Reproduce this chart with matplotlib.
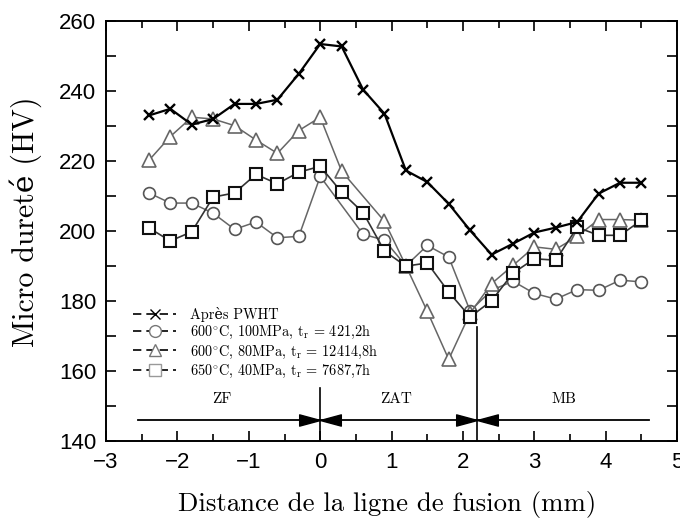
import numpy as np
import matplotlib
matplotlib.use("Agg")
import matplotlib.pyplot as plt
from matplotlib.lines import Line2D
from matplotlib.ticker import MultipleLocator

plt.rcParams['mathtext.fontset'] = 'cm'
serif = ['cmr10', 'DejaVu Serif']

# --- data ---
x_pwht = [-2.4, -2.1, -1.8, -1.5, -1.2, -0.9, -0.6, -0.3, 0.0, 0.3, 0.6, 0.9,
          1.2, 1.5, 1.8, 2.1, 2.4, 2.7, 3.0, 3.3, 3.6, 3.9, 4.2, 4.5]
hv_pwht = [232.9, 234.8, 230.3, 231.9, 236.2, 236.2, 237.4, 244.8, 253.3, 252.6, 240.3, 233.4,
           217.2, 213.9, 207.7, 200.1, 193.2, 196.3, 199.5, 200.9, 202.5, 210.6, 213.7, 213.7]

x_c100 = [-2.4, -2.1, -1.8, -1.5, -1.2, -0.9, -0.6, -0.3, 0.0, 0.6, 0.9,
          1.2, 1.5, 1.8, 2.1, 2.4, 2.7, 3.0, 3.3, 3.6, 3.9, 4.2, 4.5]
hv_c100 = [210.8, 207.9, 207.9, 205.0, 200.4, 202.5, 198.0, 198.4, 215.5, 199.0, 197.3,
           190.0, 195.8, 192.5, 177.1, 183.0, 185.6, 182.1, 180.5, 183.2, 183.0, 185.9, 185.4]

x_c80 = [-2.4, -2.1, -1.8, -1.5, -1.2, -0.9, -0.6, -0.3, 0.0, 0.3, 0.9,
         1.2, 1.5, 1.8, 2.1, 2.4, 2.7, 3.0, 3.3, 3.6, 3.9, 4.2, 4.5]
hv_c80 = [220.1, 226.9, 232.4, 231.9, 230.0, 225.9, 222.1, 228.6, 232.4, 217.0, 202.7,
          190.0, 177.0, 163.3, 176.5, 184.9, 190.1, 195.4, 194.7, 198.4, 203.2, 203.2, 203.0]

x_c40 = [-2.4, -2.1, -1.8, -1.5, -1.2, -0.9, -0.6, -0.3, 0.0, 0.3, 0.6, 0.9,
         1.2, 1.5, 1.8, 2.1, 2.4, 2.7, 3.0, 3.3, 3.6, 3.9, 4.2, 4.5]
hv_c40 = [200.8, 197.1, 199.7, 209.6, 210.8, 216.1, 213.4, 216.7, 218.4, 211.0, 205.2, 194.2,
          189.9, 190.8, 182.5, 175.4, 180.0, 187.9, 192.0, 191.6, 201.0, 198.7, 198.7, 203.0]

labels = ["Après PWHT",
          r"$\mathrm{600^{\circ}C}$, 100MPa, $\mathrm{t_r}$ = 421,2h",
          r"$\mathrm{600^{\circ}C}$, 80MPa, $\mathrm{t_r}$ = 12414,8h",
          r"$\mathrm{650^{\circ}C}$, 40MPa, $\mathrm{t_r}$ = 7687,7h"]

zone_bounds = [0.0, 2.2]
zone_bound_tops = [155, 172.6]
zone_line_x = [-2.55, 4.6]
zone_line_y = 146
zone_names = ["ZF", "ZAT", "MB"]
zone_name_x = [-1.38, 1.06, 3.42]
zone_name_y = 152

fig = plt.figure(figsize=(6.8, 5.21), dpi=100)
ax = fig.add_axes([0.156, 0.1536, 0.8398, 0.807])

ax.plot(x_pwht, hv_pwht, "-", color="black", lw=1.6, marker="x", ms=7, mew=1.7, zorder=5)
ax.plot(x_c100, hv_c100, "-", color="#666666", lw=1.1, marker="o", ms=8.5, mew=1.2,
        mfc="white", mec="#555555", zorder=3)
ax.plot(x_c80, hv_c80, "-", color="#666666", lw=1.1, marker="^", ms=9.5, mew=1.2,
        mfc="white", mec="#666666", zorder=3)
ax.plot(x_c40, hv_c40, "-", color="#333333", lw=1.2, marker="s", ms=8.5, mew=1.5,
        mfc="white", mec="#111111", zorder=4)

# zones
ax.plot(zone_line_x, [zone_line_y, zone_line_y], color="black", lw=1.3, zorder=2)
for xb, top in zip(zone_bounds, zone_bound_tops):
    ax.plot([xb, xb], [140, top], color="black", lw=1.2, zorder=2)
right_head = [(0, 0), (-1, -0.27), (-1, 0.27), (0, 0)]
left_head = [(0, 0), (1, -0.27), (1, 0.27), (0, 0)]
ax.plot(zone_bounds, [zone_line_y] * 2, ls="none", marker=right_head, ms=30,
        color="black", zorder=6)
ax.plot(zone_bounds, [zone_line_y] * 2, ls="none", marker=left_head, ms=30,
        color="black", zorder=6)
for name, xn in zip(zone_names, zone_name_x):
    ax.text(xn, zone_name_y, name, ha="center", va="center", fontsize=11, family=serif)

ax.set_xlim(-3, 5)
ax.set_ylim(140, 260)
ax.xaxis.set_major_locator(MultipleLocator(1))
ax.xaxis.set_minor_locator(MultipleLocator(0.5))
ax.yaxis.set_major_locator(MultipleLocator(20))
ax.yaxis.set_minor_locator(MultipleLocator(10))
ax.tick_params(which="both", direction="in", top=True, right=True, width=1.2)
ax.tick_params(which="major", length=7, labelsize=16)
ax.tick_params(axis="x", which="major", pad=8)
ax.tick_params(axis="y", which="major", pad=7)
ax.tick_params(which="minor", length=5)
ax.tick_params(axis="y", which="minor", length=7)
for lab in ax.get_xticklabels() + ax.get_yticklabels():
    lab.set_family("Liberation Sans")
for s in ax.spines.values():
    s.set_linewidth(1.4)

ax.set_xlabel("Distance de la ligne de fusion (mm)", fontsize=19.3, family=serif)
ax.set_ylabel("Micro dureté (HV)", fontsize=21.5, family=serif)
ax.xaxis.set_label_coords(0.4915, -0.118)
ax.yaxis.set_label_coords(-0.112, 0.522)

handles = [
    Line2D([], [], color="black", lw=1.2, ls=(0, (5, 3)), marker="x", ms=7, mew=1.0),
    Line2D([], [], color="black", lw=1.2, ls=(0, (5, 3)), marker="o", ms=8.5, mew=1.0,
           mfc="white", mec="#777777"),
    Line2D([], [], color="black", lw=1.2, ls=(0, (5, 3)), marker="^", ms=9, mew=1.0,
           mfc="white", mec="#777777"),
    Line2D([], [], color="black", lw=1.2, ls=(0, (5, 3)), marker="s", ms=8, mew=1.0,
           mfc="white", mec="#999999"),
]
leg = ax.legend(handles, labels, loc="center left", bbox_to_anchor=(0.035, 0.232),
                frameon=False, borderpad=0, handlelength=3, handletextpad=1.0,
                labelspacing=0.15, prop={"family": serif, "size": 10.3})

plt.savefig("out.png", dpi=100)
